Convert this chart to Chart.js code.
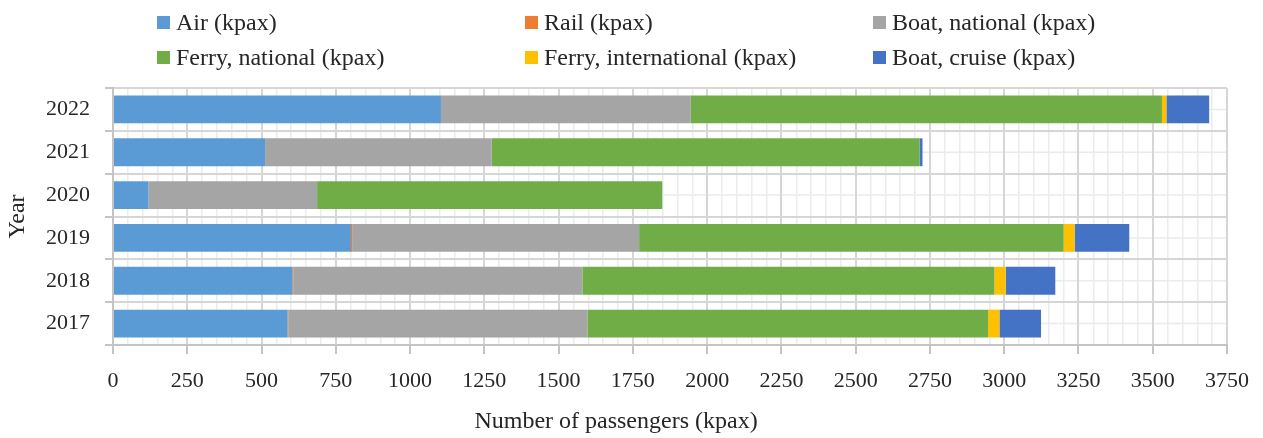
<!DOCTYPE html>
<html>
<head>
<meta charset="utf-8">
<title>Passengers by mode</title>
<script src="https://cdn.jsdelivr.net/npm/chart.js@4.4.1/dist/chart.umd.min.js"></script>
<style>
  html, body { margin: 0; padding: 0; background: #fff; }
  #wrap { position: relative; width: 1263px; height: 438px; }
  #legend { position: absolute; left: 0; top: 0; width: 1263px; height: 80px;
            font-family: "Liberation Serif", serif; font-size: 24px; color: #262626; }
  .item { position: absolute; display: flex; align-items: center; white-space: nowrap; height: 28px; }
  .box { width: 13px; height: 13px; margin-right: 6px; }
</style>
</head>
<body>
<div id="wrap">
  <canvas id="chart" width="1263" height="438"></canvas>
  <div id="legend"></div>
</div>
<script>
// data (kpax)
const years = ["2022", "2021", "2020", "2019", "2018", "2017"];
const air = [1104, 512, 119, 801, 605, 588];
const rail = [0, 0, 0, 4, 3, 2];
const boatNational = [841, 763, 568, 966, 972, 1007];
const ferryNational = [1586, 1440, 1162, 1429, 1387, 1349];
const ferryInternational = [15, 0, 0, 37, 38, 38];
const boatCruise = [144, 10, 0, 184, 167, 140];

const seriesNames = [
  "Air (kpax)",
  "Rail (kpax)",
  "Boat, national (kpax)",
  "Ferry, national (kpax)",
  "Ferry, international (kpax)",
  "Boat, cruise (kpax)",
];
const seriesColors = ["#5B9BD5", "#ED7D31", "#A5A5A5", "#70AD47", "#FFC000", "#4472C4"];
const seriesData = [air, rail, boatNational, ferryNational, ferryInternational, boatCruise];

const FONT = "Liberation Serif";
const TEXT = "#262626";

// legend, 2 rows x 3 columns
const legendCols = [157, 525, 873];
const legendRows = [22, 57];
const legend = document.getElementById("legend");
seriesNames.forEach((name, i) => {
  const item = document.createElement("div");
  item.className = "item";
  item.style.left = legendCols[i % 3] + "px";
  item.style.top = (legendRows[Math.floor(i / 3)] - 14) + "px";
  const box = document.createElement("span");
  box.className = "box";
  box.style.background = seriesColors[i];
  item.appendChild(box);
  item.appendChild(document.createTextNode(name));
  legend.appendChild(item);
});

// light lines through the middle of each year band
const midLines = {
  id: "midLines",
  beforeDraw(chart) {
    const { ctx, chartArea, scales } = chart;
    const y = scales.y;
    ctx.save();
    ctx.strokeStyle = "#ebebeb";
    ctx.lineWidth = 1.5;
    y.ticks.forEach((t, i) => {
      const py = y.getPixelForTick(i);
      ctx.beginPath();
      ctx.moveTo(chartArea.left, py);
      ctx.lineTo(chartArea.right, py);
      ctx.stroke();
    });
    ctx.restore();
  },
};

new Chart(document.getElementById("chart"), {
  type: "bar",
  data: {
    labels: years,
    datasets: seriesNames.map((name, i) => ({
      label: name,
      data: seriesData[i],
      backgroundColor: seriesColors[i],
      borderWidth: 0,
      barPercentage: 0.65,
      categoryPercentage: 1,
    })),
  },
  options: {
    indexAxis: "y",
    responsive: false,
    animation: false,
    layout: { padding: { top: 88, right: 31, left: 0, bottom: 0 } },
    plugins: {
      legend: { display: false },
      tooltip: { enabled: false },
      title: {
        display: true,
        position: "bottom",
        text: "Number of passengers (kpax)",
        color: TEXT,
        font: { family: FONT, size: 24, weight: "normal" },
        padding: { top: 14, bottom: 2 },
      },
    },
    scales: {
      x: {
        stacked: true,
        min: 0,
        max: 3750,
        afterFit(scale) { scale.height = 48.2; },
        border: { color: "#c4c4c4", width: 2 },
        grid: {
          color: (c) => (c.tick && c.tick.value % 250 === 0 ? "#d6d6d6" : "#ececec"),
          lineWidth: (c) => (c.tick && c.tick.value % 250 === 0 ? 2 : 1.5),
          tickColor: (c) => (c.tick && c.tick.value % 250 === 0 ? "#c4c4c4" : "rgba(0,0,0,0)"),
          tickLength: 9,
        },
        ticks: {
          stepSize: 50,
          autoSkip: false,
          maxRotation: 0,
          padding: 14,
          color: TEXT,
          font: { family: FONT, size: 22 },
          callback: (v) => (v % 250 === 0 ? String(v) : ""),
        },
      },
      y: {
        stacked: true,
        afterFit(scale) { scale.width = 113; },
        border: { color: "#c4c4c4", width: 2 },
        grid: {
          offset: true,
          color: "#d6d6d6",
          lineWidth: 2,
          tickColor: "#c4c4c4",
          tickLength: 8,
        },
        ticks: {
          padding: 15,
          color: TEXT,
          font: { family: FONT, size: 22 },
        },
        title: {
          display: true,
          text: "Year",
          color: TEXT,
          font: { family: FONT, size: 24 },
          padding: { top: 3, bottom: 3 },
        },
      },
    },
  },
  plugins: [midLines],
});
</script>
</body>
</html>
